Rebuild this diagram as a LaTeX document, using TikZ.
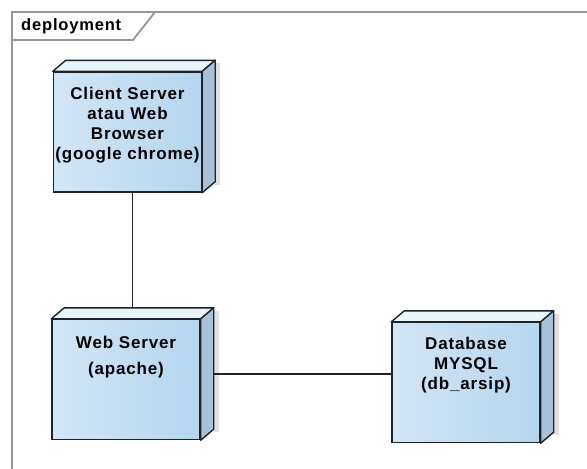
\documentclass[tikz,border=0pt]{standalone}
\usepackage{fontspec}
\setmainfont{Liberation Sans}[LetterSpace=5]

\definecolor{faceleft}{HTML}{D2E6F5}
\definecolor{faceright}{HTML}{B4D6EE}
\definecolor{facetop}{HTML}{E8F5FB}
\definecolor{faceside}{HTML}{A9C1D6}
\definecolor{framegray}{HTML}{959595}
\definecolor{edgecol}{HTML}{1E2328}

\tikzset{
  devnode/.style={draw=edgecol, line width=1.4pt, inner sep=0pt, left color=faceleft, right color=faceright, font=\fontsize{17}{20}\selectfont\bfseries},
  depthface/.style={draw=edgecol, line width=1.4pt, line join=round},
  link/.style={draw=edgecol, line width=1.6pt},
}
\newcommand{\nodetext}[2]{\parbox[c][120pt][t]{148pt}{\centering\rule{0pt}{#1}#2}}

\begin{document}
\begin{tikzpicture}[x=1pt,y=-1pt]
\useasboundingbox (0,0) rectangle (587,469);

% frame and its tab
\draw[framegray, line width=1.8pt] (600,12) -- (12,12) -- (12,480);
\draw[framegray, line width=1.8pt] (12,40) -- (133,40) -- (155,12);
\node[anchor=west, inner sep=0pt, font=\fontsize{16.5}{19}\selectfont\bfseries] (title) at (21,26) {deployment};

% nodes
\node[devnode] (client) at (127.5,132) {\nodetext{27pt}{Client Server\\atau Web\\Browser\\(google chrome)}};
\node[devnode] (web) at (126,379.5) {\nodetext{29pt}{Web Server\\[6pt](apache)}};
\node[devnode] (db) at (466,382.5) {\nodetext{27pt}{Database\\MYSQL\\(db\_arsip)}};

\foreach \n in {client, web, db} {
    \fill[black!12] ([shift={(13,-8)}]\n.north east) rectangle ([shift={(18,-8)}]\n.south east);
    \draw[depthface, fill=facetop] (\n.north west) -- ++(13,-11) -- ([shift={(13,-11)}]\n.north east) -- (\n.north east) -- cycle;
    \draw[depthface, fill=faceside] (\n.north east) -- ++(13,-11) -- ([shift={(13,-11)}]\n.south east) -- (\n.south east) -- cycle;
}

% links
\coordinate (webtop) at ([shift={(6.5,-11)}]web.north);
\coordinate (webside) at ([shift={(13,-5.5)}]web.east);
\draw[link] (client.south -| webtop) -- (webtop);
\draw[link] (webside) -- (webside -| db.west);

\end{tikzpicture}
\end{document}
